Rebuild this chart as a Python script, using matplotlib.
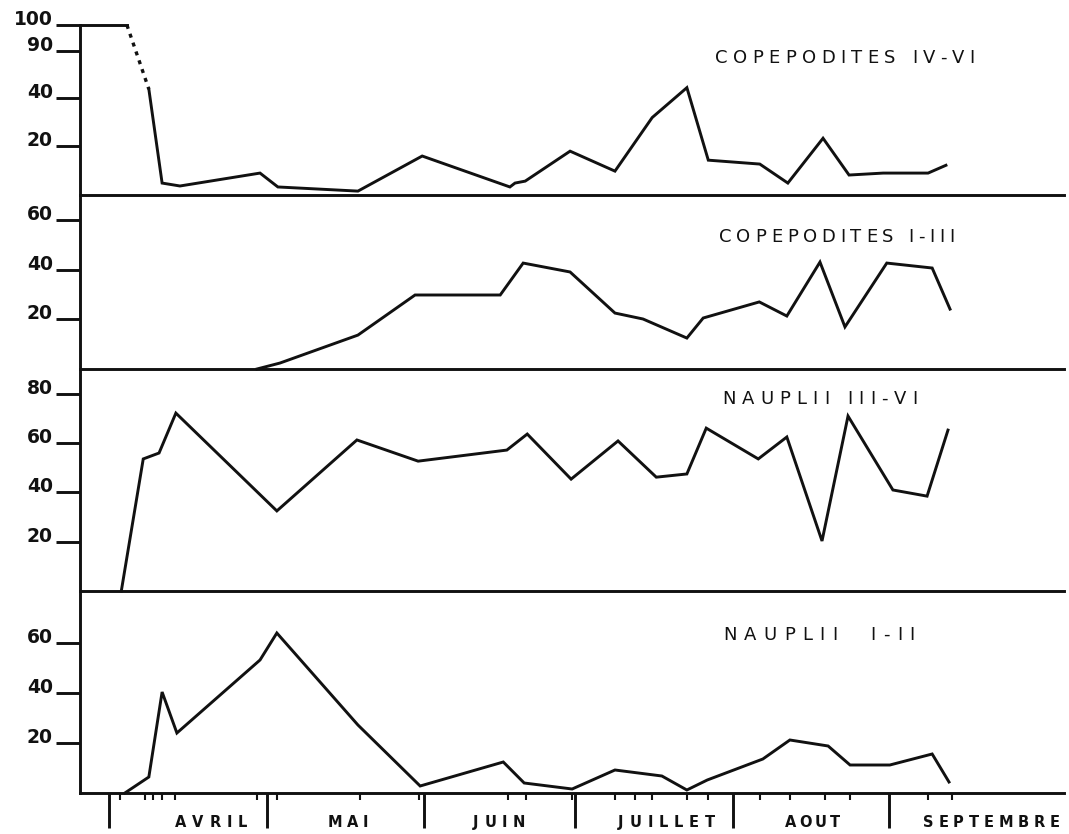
import numpy as np
import matplotlib
matplotlib.use("Agg")
import matplotlib.pyplot as plt
from matplotlib.font_manager import FontProperties
from matplotlib.textpath import TextToPath

# ---------------- data (x = days since 1 April) ----------------
# COPEPODITES IV-VI (broken scale 0-40 / 40-90 / 90-100)
cop46_top_days = [-5.7, 3.5]
cop46_top_vals = [100, 100]
cop46_dot_days = [3.5, 7.8]
cop46_dot_vals = [100, 49]
cop46_days = [7.8, 10.4, 13.9, 29.6, 33.1, 48.8, 61.4, 78.6, 79.6, 81.6, 90.4,
              99.2, 106.5, 113.3, 117.5, 127.6, 133.1, 140.0, 145.1, 151.8,
              160.6, 164.1]
cop46_vals = [49, 4.9, 3.7, 9.0, 3.3, 1.6, 16.0, 3.3, 4.9, 5.7, 18.0,
              9.8, 31.8, 50.6, 14.3, 12.7, 4.9, 23.3, 8.2, 9.0, 9.0, 12.2]

# COPEPODITES I-III
cop13_days = [29.0, 33.5, 48.8, 60.0, 76.7, 81.2, 90.4, 99.2, 104.7, 113.3,
              116.5, 127.5, 132.9, 139.4, 144.3, 152.5, 161.4, 164.9]
cop13_vals = [0, 2.4, 13.7, 29.9, 29.9, 42.8, 39.2, 22.6, 20.2, 12.5,
              20.6, 27.1, 21.4, 43.2, 17.0, 42.8, 40.8, 24.2]

# NAUPLII III-VI
naup36_days = [2.4, 6.7, 9.8, 13.1, 32.9, 48.6, 60.6, 78.0, 82.0, 90.6, 99.8,
               107.3, 113.3, 117.1, 127.3, 132.9, 139.8, 144.9, 153.7, 160.4,
               164.5]
naup36_vals = [0, 53.6, 56.0, 72.2, 32.5, 61.3, 52.7, 57.2, 63.7, 45.4, 60.9,
               46.2, 47.5, 66.1, 53.6, 62.5, 20.3, 71.0, 41.0, 38.5, 65.3]

# NAUPLII I-II
naup12_days = [3.1, 7.8, 10.4, 13.3, 29.6, 32.9, 48.8, 61.0, 77.3, 81.4, 90.8,
               99.2, 108.4, 113.3, 117.3, 128.2, 133.5, 141.0, 145.3, 153.1,
               161.4, 164.7]
naup12_vals = [0, 6.4, 40.4, 24.0, 53.2, 64.0, 27.2, 2.8, 12.4, 4.0, 1.6,
               9.2, 6.8, 1.2, 5.2, 13.6, 21.2, 18.8, 11.2, 11.2, 15.6, 4.4]

# sampling dates (small ticks) and months
sample_days = [2.2, 7.1, 8.6, 10.4, 12.9, 29.0, 32.9, 49.2, 60.8, 78.2, 81.8,
               90.8, 99.2, 103.1, 106.5, 113.3, 117.5, 127.6, 133.5, 140.4,
               145.3, 160.6, 165.3]
month_edges = [0, 31.0, 61.8, 91.4, 122.4, 152.9]
month_names = ["AVRIL", "MAI", "JUIN", "JUILLET", "AOUT", "SEPTEMBRE"]
month_centers = [20.0, 46.8, 76.5, 109.3, 137.9, 173.0]

panel_titles = ["COPEPODITES IV-VI", "COPEPODITES I-III", "NAUPLII III-VI",
                "NAUPLII  I-II"]
yticks = [[20, 40, 90, 100], [20, 40, 60], [20, 40, 60, 80], [20, 40, 60]]

# ---------------- layout ----------------
W, H, DPI = 1069, 834, 100
fig = plt.figure(figsize=(W / DPI, H / DPI), dpi=DPI)
fig.patch.set_facecolor("white")

LEFT, RIGHT = 80, 1064
panel_px = [(25, 195), (195, 369), (369, 591), (591, 793)]
ylims = [(0, 100), (0, 70.3), (0, 90.1), (0, 80.8)]
XLIM = (-5.7, 187.25)
LW = 2.1
INK = "#111111"

axes = []
for (top, bot) in panel_px:
    ax = fig.add_axes([LEFT / W, 1 - bot / H, (RIGHT - LEFT) / W, (bot - top) / H])
    axes.append(ax)

# broken scale for top panel
brk_vals = [0, 40, 90, 100]
brk_pos = [0, 98, 145, 171]
fwd = lambda v: np.interp(v, brk_vals, brk_pos)
inv = lambda p: np.interp(p, brk_pos, brk_vals)
axes[0].set_yscale("function", functions=(fwd, inv))

for i, ax in enumerate(axes):
    ax.set_xlim(*XLIM)
    ax.set_ylim(*ylims[i])
    for s in ["top", "right"]:
        ax.spines[s].set_visible(False)
    for s in ["left", "bottom"]:
        ax.spines[s].set_linewidth(LW)
        ax.spines[s].set_color(INK)
        ax.spines[s].set_capstyle("projecting")
    ax.set_yticks(yticks[i], labels=[str(t) for t in yticks[i]],
                  fontweight="bold", va="baseline", fontsize=13.5)
    ax.yaxis.set_minor_locator(matplotlib.ticker.NullLocator())
    ax.tick_params(axis="y", direction="out", length=17, width=LW, pad=2.5,
                   colors=INK)
    if i < 3:
        ax.tick_params(axis="x", bottom=False, labelbottom=False)
        ax.xaxis.set_minor_locator(matplotlib.ticker.NullLocator())
    ax.patch.set_alpha(0)

# data lines
kw = dict(color=INK, lw=LW, solid_joinstyle="miter", clip_on=False)
axes[0].plot(cop46_top_days, cop46_top_vals, **kw)
axes[0].plot(cop46_dot_days, cop46_dot_vals, color=INK, lw=2.4,
             linestyle=(0, (1.2, 1.6)), clip_on=False)
axes[0].plot(cop46_days, cop46_vals, **kw)
axes[1].plot(cop13_days, cop13_vals, **kw)
axes[2].plot(naup36_days, naup36_vals, **kw)
axes[3].plot(naup12_days, naup12_vals, **kw)

# x axis on bottom panel
axb = axes[3]
axb.set_xticks(month_edges, labels=[""] * len(month_edges))
axb.set_xticks(sample_days, minor=True)
axb.tick_params(axis="x", which="major", direction="out", length=25, width=LW,
                colors=INK)
axb.tick_params(axis="x", which="minor", direction="out", length=5, width=1.5,
                colors=INK)

# ---------------- hand-lettering helper ----------------
t2p = TextToPath()
K = DPI / 72.0


def tracked(x_px, y_base_px, s, size, weight, width_px, center=False):
    fp = FontProperties(family="DejaVu Sans", size=size, weight=weight)
    widths = []
    for ch in s:
        if ch == " ":
            widths.append(0.30 * size * K)
        else:
            w, h, d = t2p.get_text_width_height_descent(ch, fp, ismath=False)
            widths.append(w * K)
    gap = (width_px - sum(widths)) / max(len(s) - 1, 1)
    x = x_px - width_px / 2 if center else x_px
    for ch, w in zip(s, widths):
        if ch != " ":
            fig.text(x / W, 1 - y_base_px / H, ch, fontproperties=fp,
                     ha="left", va="baseline", color=INK)
        x += w + gap


# panel titles (left px, baseline px, width px)
title_pos = [(715, 63, 260), (719, 242, 236), (722, 404, 196), (723, 640, 192)]
for t, (x0, yb, wd) in zip(panel_titles, title_pos):
    tracked(x0, yb, t, 13, "normal", wd)

# month labels
month_widths = [72, 41, 52, 97, 55, 137]
fig.canvas.draw()
for name, c, wd in zip(month_names, month_centers, month_widths):
    xd, _ = axb.transData.transform((c, 0))
    tracked(xd, 827, name, 10.5, "bold", wd, center=True)

fig.savefig("out.png", dpi=DPI, facecolor="white")
